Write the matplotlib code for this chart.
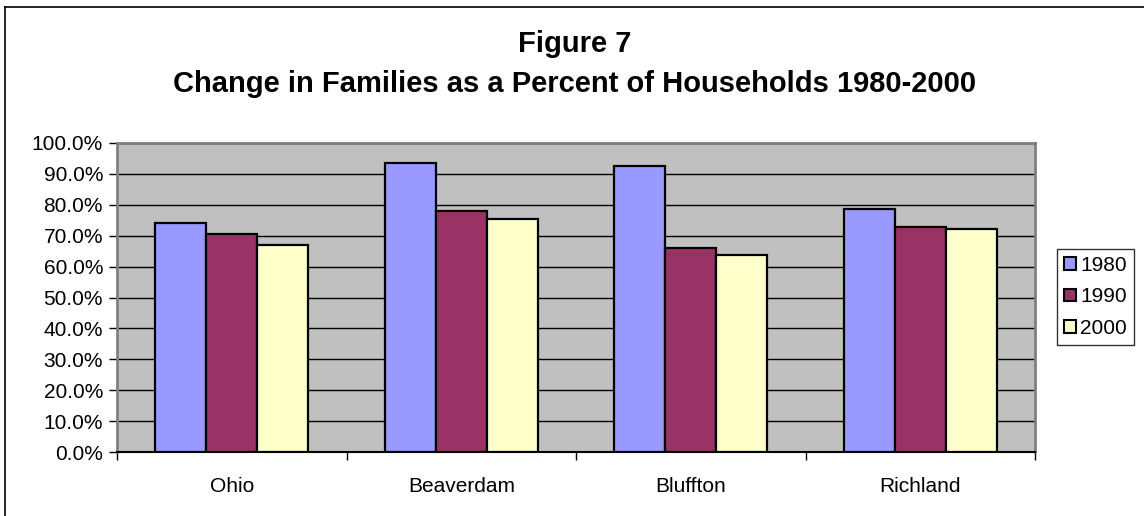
import numpy as np
import matplotlib.pyplot as plt
from matplotlib.patches import Patch
from matplotlib.lines import Line2D
from matplotlib.ticker import FuncFormatter

plt.rcParams['font.family'] = ['Liberation Sans', 'DejaVu Sans']

# families as a percent of households
places = ['Ohio', 'Beaverdam', 'Bluffton', 'Richland']
years = ['1980', '1990', '2000']
pct_1980 = [74.2, 93.6, 92.5, 78.5]
pct_1990 = [70.6, 77.9, 66.0, 72.9]
pct_2000 = [67.1, 75.5, 63.9, 72.1]

colors = ['#9999FF', '#993366', '#FFFFCC']

W, H = 1144, 516
fig = plt.figure(figsize=(W / 100, H / 100), dpi=100)

# plot area in pixels: left 117, right 1035, top 143, bottom 452
ax = fig.add_axes([117 / W, (H - 452) / H, 918 / W, 309 / H])
ax.set_facecolor('#C0C0C0')

x = np.arange(len(places)) + 0.5
w = 1 / 4.5
for k, vals in enumerate([pct_1980, pct_1990, pct_2000]):
    ax.bar(x + (k - 1) * w, vals, width=w, color=colors[k],
           edgecolor='black', linewidth=1.6, zorder=3)

ax.set_xlim(0, len(places))
ax.set_ylim(0, 100)
ax.set_yticks(np.arange(0, 101, 10))
ax.yaxis.set_major_formatter(FuncFormatter(lambda v, p: f'{v:.1f}%'))
ax.yaxis.grid(True, color='black', linewidth=1.0, zorder=1)
ax.set_axisbelow(True)

# ticks sit on the category boundaries, labels in between
ax.set_xticks(np.arange(len(places) + 1))
ax.set_xticklabels([])
ax.set_xticks(x, minor=True)
ax.set_xticklabels(places, minor=True, fontsize=15)
ax.tick_params(axis='x', which='minor', length=0, pad=18)
ax.tick_params(axis='x', which='major', length=6, width=1, color='black', direction='out')
ax.tick_params(axis='y', length=6, width=1, color='black', direction='out', labelsize=15, pad=4)

for side in ['top', 'right', 'left']:
    ax.spines[side].set_color('#808080')
    ax.spines[side].set_linewidth(2)
ax.spines['bottom'].set_color('black')
ax.spines['bottom'].set_linewidth(1.5)

# title, two lines
fig.text(575 / W, 1 - 52 / H, 'Figure 7', ha='center', va='baseline',
         fontsize=21, fontweight='bold')
fig.text(575 / W, 1 - 92 / H, 'Change in Families as a Percent of Households 1980-2000',
         ha='center', va='baseline', fontsize=21, fontweight='bold')

handles = [Patch(facecolor=c, edgecolor='black', linewidth=1.5) for c in colors]
leg = fig.legend(handles, years, loc='center left',
                 bbox_to_anchor=(1057 / W, 1 - 297 / H),
                 fontsize=15, frameon=True, fancybox=False, shadow=False,
                 handlelength=0.55, handleheight=0.55, handletextpad=0.2,
                 labelspacing=0.6, borderpad=0.35, borderaxespad=0)
leg.get_frame().set_edgecolor('black')
leg.get_frame().set_linewidth(1.0)

# outer chart frame
fig.add_artist(Line2D([5 / W, 5 / W], [0, 1 - 7 / H], color='black', linewidth=1.2))
fig.add_artist(Line2D([5 / W, 1], [1 - 7 / H, 1 - 7 / H], color='black', linewidth=1.2))

fig.savefig('out.png', dpi=100)
